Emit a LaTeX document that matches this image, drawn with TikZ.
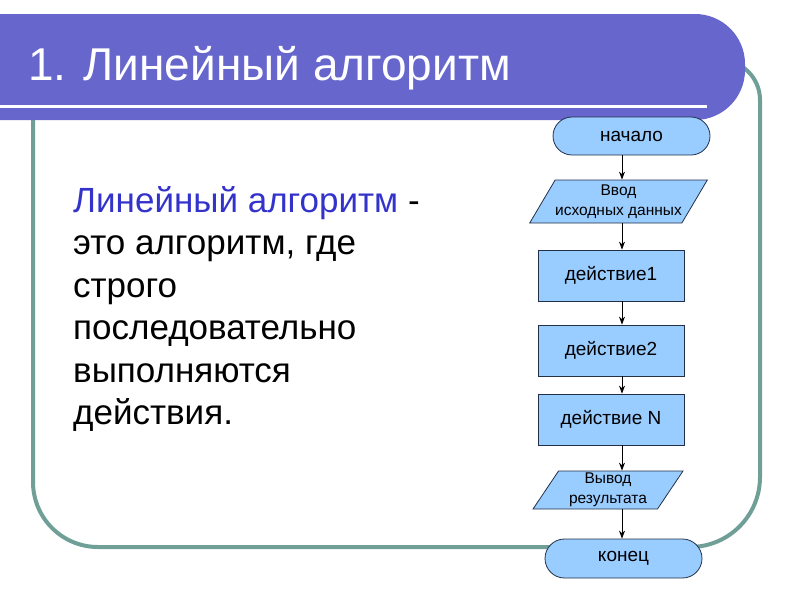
\documentclass[tikz,border=0pt]{standalone}
\usepackage{fontspec}
\setmainfont{Liberation Sans}
\usetikzlibrary{shapes.geometric,shapes.misc,arrows.meta,positioning}

\definecolor{titlebar}{HTML}{6666CC}
\definecolor{framegreen}{HTML}{6F9F97}
\definecolor{termblue}{HTML}{99CCFF}
\definecolor{edgeblue}{HTML}{22304A}
\definecolor{keyword}{HTML}{3333CC}

\begin{document}
\begin{tikzpicture}[x=1pt,y=-1pt,on grid,>={Stealth[length=8pt,width=6pt]},
  box/.style={draw=edgeblue,fill=termblue,line width=0.8pt,font=\fontsize{19}{22}\selectfont},
  term/.style={box,rounded rectangle,minimum width=157pt,minimum height=38pt,inner sep=0pt},
  action/.style={box,rectangle,minimum width=146pt,minimum height=51pt},
  inout/.style={box,trapezium,trapezium left angle=53,trapezium right angle=127,
    trapezium stretches body,inner sep=0pt,align=center,font=\fontsize{15.5}{20}\selectfont},
  flow/.style={->,line width=0.8pt}]

\useasboundingbox (0,0) rectangle (800,600);
\clip (0,0) rectangle (800,600);

% frame
\draw[framegreen,line width=4pt,rounded corners=65pt] (33,100) -- (33,547) -- (400,547);
\draw[framegreen,line width=4pt,rounded corners=70pt] (400,547) -- (760,547) -- (760,300);
\draw[framegreen,line width=4pt,rounded corners=40pt] (760,300) -- (760,60) -- (650,60);

% title bar
\fill[titlebar,rounded corners=50pt] (-60,14) -- (745,14) -- (745,120) -- (-60,120) -- cycle;
\draw[white,line width=3pt] (0,106) -- (707,106);
\node[anchor=base west,inner sep=0pt,text=white,font=\fontsize{46}{50}\selectfont]
  (title) at (28,80) {1. Линейный алгоритм};

% definition (base = last line)
\node[anchor=base west,inner sep=0pt,align=left,font=\fontsize{35}{42.5}\selectfont]
  (defn) at (73,424.5) {\textcolor{keyword}{Линейный алгоритм} -\\это алгоритм, где\\строго\\последовательно\\выполняются\\действия.};

% flowchart
\coordinate (axis) at (622,0);
\node[term] (start) at (631.5,136) {начало};
\node[inout,minimum width=167pt,minimum height=43pt] (input) [below left=65.5pt and 13pt of start] {Ввод\\исходных данных};
\node[action] (step1) [below left=74pt and 7.5pt of input] {действие1};
\node[action] (step2) [below=75pt of step1] {действие2};
\node[action] (stepN) [below=69pt of step2] {действие N};
\node[inout,minimum width=150pt,minimum height=38pt] (output) [below left=70.5pt and 3pt of stepN] {Вывод\\результата};
\node[term,minimum height=39pt] (stop) [below right=68.5pt and 15.5pt of output] {конец};

\draw[flow] (start.south -| axis) -- (input.north -| axis);
\draw[flow] (input.south -| axis) -- (step1.north -| axis);
\draw[flow] (step1.south -| axis) -- (step2.north -| axis);
\draw[flow] (step2.south -| axis) -- (stepN.north -| axis);
\draw[flow] (stepN.south -| axis) -- (output.north -| axis);
\draw[flow] (output.south -| axis) -- (stop.north -| axis);

\end{tikzpicture}
\end{document}
